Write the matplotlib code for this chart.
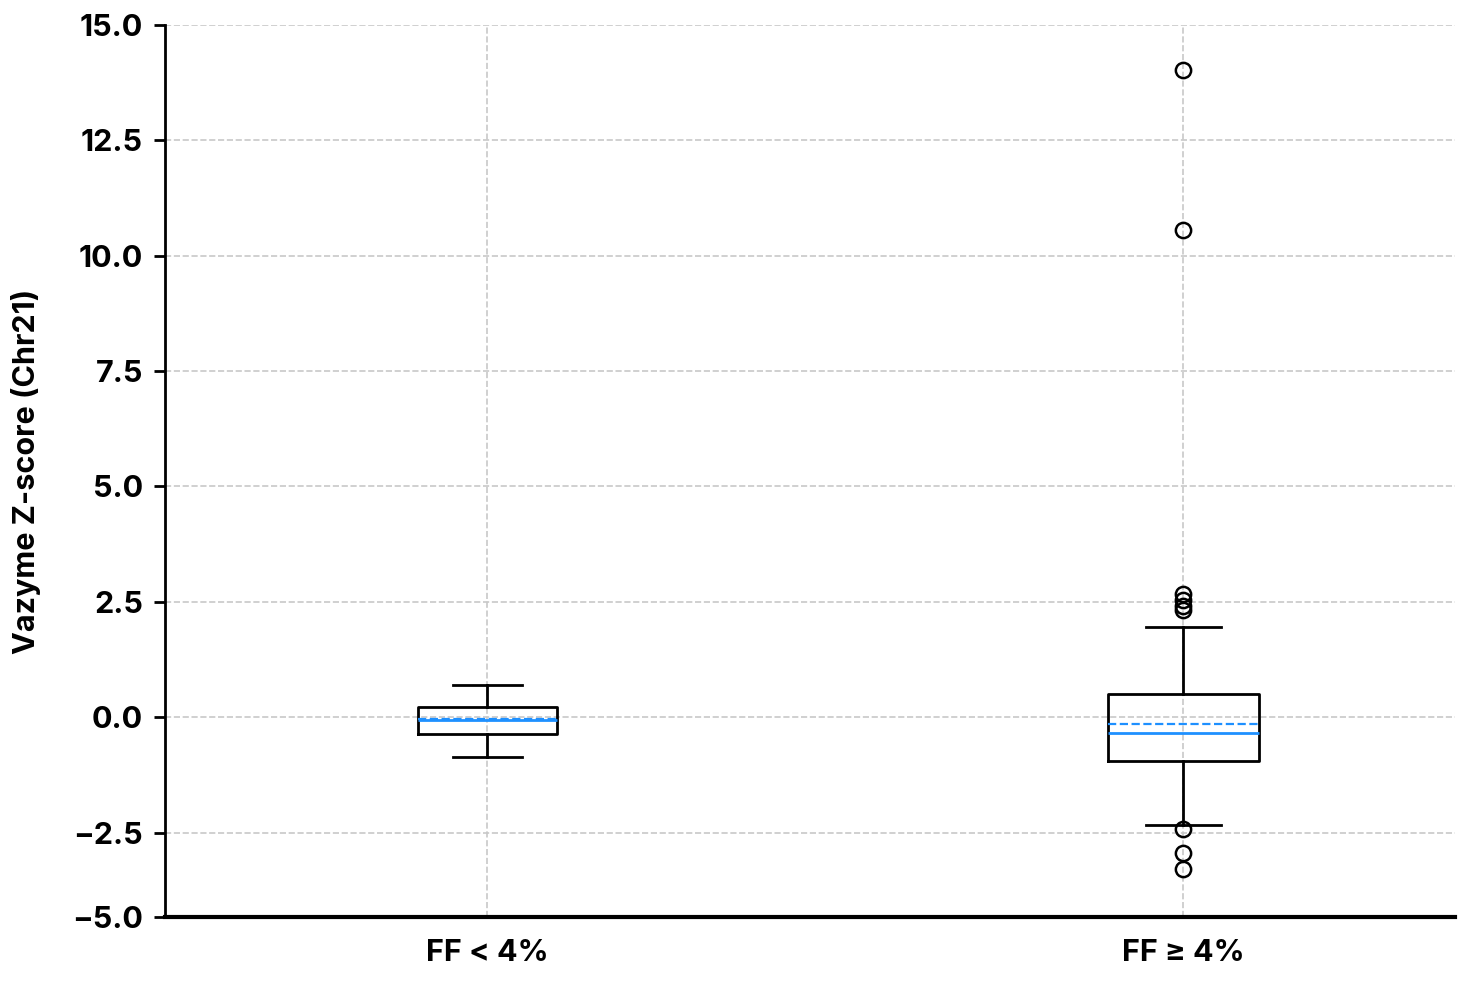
import numpy as np
import matplotlib
matplotlib.use('Agg')
from matplotlib import pyplot as plt

plt.rcParams['font.family'] = ['Inter', 'DejaVu Sans']
plt.rcParams['font.weight'] = 'bold'

# group labels and box statistics
groups = ['FF < 4%', 'FF \u2265 4%']
whislo = [-0.87, -2.34]
q1 = [-0.37, -0.95]
med = [-0.07, -0.35]
mean = [-0.03, -0.15]
q3 = [0.22, 0.50]
whishi = [0.69, 1.95]
fliers = [[], [14.03, 10.56, 2.66, 2.53, 2.42, 2.32, -2.42, -2.94, -3.29]]

# y ticks as printed (bottom of the axis is labelled -5.0 in the source)
ytick_pos = [-4.33, -2.5, 0, 2.5, 5, 7.5, 10, 12.5, 15]
ytick_lab = ['\u22125.0', '\u22122.5', '0.0', '2.5', '5.0', '7.5', '10.0', '12.5', '15.0']

stats = []
for i in range(len(groups)):
	stats.append(dict(label=groups[i], whislo=whislo[i], q1=q1[i], med=med[i],
		mean=mean[i], q3=q3[i], whishi=whishi[i], fliers=fliers[i]))

fig = plt.figure(figsize=(14.72, 9.82), dpi=100)
ax = fig.add_axes([165/1472, 1-917/982, 1290/1472, 892/982])

ax.bxp(stats, positions=[1, 2], widths=[0.2, 0.216], showmeans=True, meanline=True,
	boxprops=dict(color='black', linewidth=2),
	whiskerprops=dict(color='black', linewidth=2),
	capprops=dict(color='black', linewidth=2),
	medianprops=dict(color='#1e90ff', linewidth=2),
	meanprops=dict(color='#1e90ff', linewidth=1.6, linestyle='--'),
	flierprops=dict(marker='o', markerfacecolor='none', markeredgecolor='black',
		markersize=11, markeredgewidth=1.8))

ax.set_xlim(0.537, 2.39)
ax.set_ylim(ytick_pos[0], ytick_pos[-1])
ax.set_yticks(ytick_pos)
ax.set_yticklabels(ytick_lab)
ax.grid(True, linestyle='--', color='#c8c8c8', linewidth=1.2)
ax.set_axisbelow(True)

ax.spines['top'].set_visible(False)
ax.spines['right'].set_visible(False)
ax.spines['left'].set_linewidth(2)
ax.spines['bottom'].set_linewidth(3)
ax.tick_params(axis='y', labelsize=22, width=2, length=8, pad=8)
ax.tick_params(axis='x', labelsize=22, length=0, pad=16)
for t in ax.get_xticklabels() + ax.get_yticklabels():
	t.set_fontweight('bold')
ax.set_ylabel('Vazyme Z-score (Chr21)', fontsize=22, fontweight='bold', labelpad=22)

fig.savefig('out.png', dpi=100)
